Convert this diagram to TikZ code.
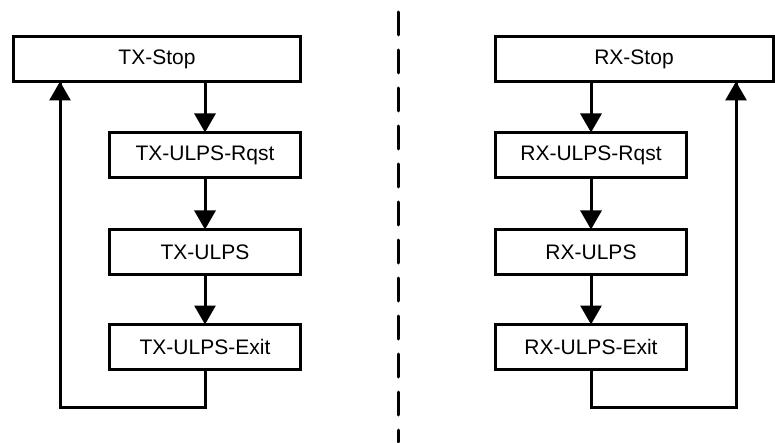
\documentclass[tikz,border=0pt]{standalone}
\usepackage{fontspec}
\setmainfont{Liberation Sans}
\usetikzlibrary{arrows.meta}
\tikzset{%
    state/.style={inner sep=0pt,outer sep=0pt,shape=rectangle,draw,line width=3pt,minimum height=45pt,font=\fontsize{21}{25}\selectfont},
    wide state/.style={state,minimum width=287pt},
    small state/.style={state,minimum width=191pt},
    flow/.style={-{Triangle[width=21pt,length=19pt]},line width=3pt},
    back/.style={line width=3pt,line join=miter},
    divider/.style={line width=3pt,dash pattern=on 23pt off 15pt,line cap=round},
}

\begin{document}
\begin{tikzpicture}[x=1pt,y=1pt]
        \useasboundingbox (0,0) rectangle (775,442);

        % transmitter side
        \node [wide state] (txstop) at (157,383) {TX-Stop};
        \node [small state] (txrqst) at (205,287) {TX-ULPS-Rqst};
        \node [small state] (txulps) at (205,190) {TX-ULPS};
        \node [small state] (txexit) at (205,95) {TX-ULPS-Exit};
        \coordinate (txlow) at (60,35);

        \draw [flow] (txstop.south -| txrqst.north) -- (txrqst.north);
        \draw [flow] (txrqst) -- (txulps);
        \draw [flow] (txulps) -- (txexit);
        \draw [back] (txexit.south) |- (txlow) -- (txlow |- txstop.south) coordinate (txback);
        \draw [flow] (txlow) -- (txback);

        % separator
        \coordinate (sepup) at (398,430);
        \coordinate (sepdown) at (398,0);
        \draw [divider] (sepup) -- (sepdown);

        % receiver side
        \node [state,minimum width=278pt] (rxstop) at (634,383) {RX-Stop};
        \node [small state] (rxrqst) at (591,287) {RX-ULPS-Rqst};
        \node [small state] (rxulps) at (591,190) {RX-ULPS};
        \node [small state] (rxexit) at (591,95) {RX-ULPS-Exit};
        \coordinate (rxlow) at (736,35);

        \draw [flow] (rxstop.south -| rxrqst.north) -- (rxrqst.north);
        \draw [flow] (rxrqst) -- (rxulps);
        \draw [flow] (rxulps) -- (rxexit);
        \draw [back] (rxexit.south) |- (rxlow) -- (rxlow |- rxstop.south) coordinate (rxback);
        \draw [flow] (rxlow) -- (rxback);
      \end{tikzpicture}
\end{document}
